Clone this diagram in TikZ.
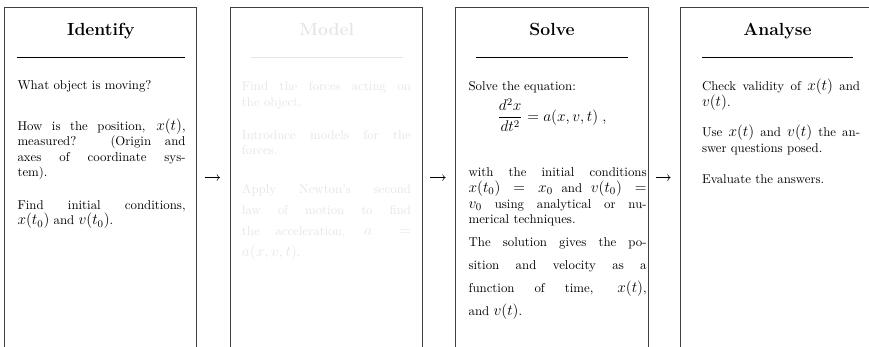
\documentclass[tikz,border=0pt]{standalone}
\usepackage{fontspec}
\usetikzlibrary{arrows.meta}
\DeclareMathSizes{10}{12}{8}{6}

\begin{document}
\begin{tikzpicture}[
  font=\fontsize{10pt}{12.2pt}\selectfont,
  >={Computer Modern Rightarrow},
  stage/.style={
    rectangle, draw=black!75, line width=0.8pt,
    minimum width=5.27cm, minimum height=9.32cm,
    inner sep=0pt, anchor=north
  },
  head/.style={
    anchor=base, inner sep=0pt,
    font=\fontsize{13.7pt}{16pt}\selectfont\bfseries
  },
  para/.style={
    anchor=base west, inner sep=0pt, align=justify
  },
  wide/.style={font=\fontsize{10pt}{16.6pt}\selectfont},
  wider/.style={font=\fontsize{10pt}{17.8pt}\selectfont},
  faded/.style={text=black!10},
  rulel/.style={line width=0.6pt, black},
  arr/.style={->, line width=0.4pt, shorten <=0.2cm, shorten >=0.27cm}
]

%% -- frame of the picture (boxes run off bottom and right) --------------
\path[use as bounding box, clip] (0,0) rectangle (23.82,-9.485);

%% -- the four stages --------------------------------------------------
\node[stage] (identify) at ( 2.758,-0.192) {};
\node[stage] (model)    at ( 8.947,-0.192) {};
\node[stage] (solve)    at (15.132,-0.192) {};
\node[stage] (analyse)  at (21.300,-0.192) {};

\draw[arr] (identify.east) -- (model.west);
\draw[arr] (model.east) -- (solve.west);
\draw[arr] (solve.east) -- (analyse.west);

%% -- Identify ---------------------------------------------------------
\node[head] (identify-t) at (2.765,-0.96) {Identify};
\draw[rulel] (0.458,-1.571) -- (5.072,-1.571);

\node[para, text width=4.606cm] (id1) at (0.474,-2.45) {
  What object is moving?
};
\node[para, text width=4.606cm] (id2) at (0.474,-3.564) {
  How is the position, $x(t)$,\linebreak
  measured? (Origin and\linebreak
  axes of coordinate sys-\linebreak
  tem).
};
\node[para, text width=4.606cm] (id3) at (0.474,-5.738) {
  Find initial conditions,\linebreak
  $x(t_0)$ and $v(t_0)$.
};

%% -- Model (greyed out) -----------------------------------------------
\node[head, faded] (model-t) at (8.956,-0.96) {Model};
\draw[line width=0.6pt, black!10] (6.873,-1.571) -- (11.040,-1.571);

\node[para, faded, text width=4.633cm] (md1) at (6.626,-2.486) {
  Find the forces acting on\linebreak
  the object.
};
\node[para, faded, text width=4.633cm] (md2) at (6.626,-3.819) {
  Introduce models for the\linebreak
  forces.
};
\node[para, faded, wide, text width=4.633cm] (md3) at (6.626,-5.291) {
  Apply Newton's second\linebreak
  law of motion to find\linebreak
  the acceleration, $a =$\linebreak
  $a(x,v,t)$.
};

%% -- Solve ------------------------------------------------------------
\node[head] (solve-t) at (15.132,-0.96) {Solve};
\draw[rulel] (13.041,-1.571) -- (17.224,-1.571);

\node[para, text width=4.88cm] (sv1) at (12.838,-2.486) {
  Solve the equation:
};
\node[inner sep=0pt] (eq) at (15.132,-3.153) {
  $\displaystyle \frac{d^2x}{dt^2} = a(x,v,t)\ ,$
};
\node[para, text width=4.88cm] (sv2) at (12.838,-4.85) {
  with the initial conditions\linebreak
  $x(t_0) = x_0$ and $v(t_0) =$\linebreak
  $v_0$ using analytical or nu-\linebreak
  merical techniques.
};
\node[para, wider, text width=4.88cm] (sv3) at (12.838,-6.763) {
  The solution gives the po-\linebreak
  sition and velocity as a\linebreak
  function of time, $x(t)$,\linebreak
  and $v(t)$.
};

%% -- Analyse ----------------------------------------------------------
\node[head] (analyse-t) at (21.314,-0.96) {Analyse};
\draw[rulel] (19.236,-1.571) -- (23.392,-1.571);

\node[para, text width=4.331cm] (an1) at (19.236,-2.486) {
  Check validity of $x(t)$ and\linebreak
  $v(t)$.
};
\node[para, text width=4.331cm] (an2) at (19.236,-3.748) {
  Use $x(t)$ and $v(t)$ the an-\linebreak
  swer questions posed.
};
\node[para, text width=4.331cm] (an3) at (19.236,-5.025) {
  Evaluate the answers.
};

\end{tikzpicture}
\end{document}
